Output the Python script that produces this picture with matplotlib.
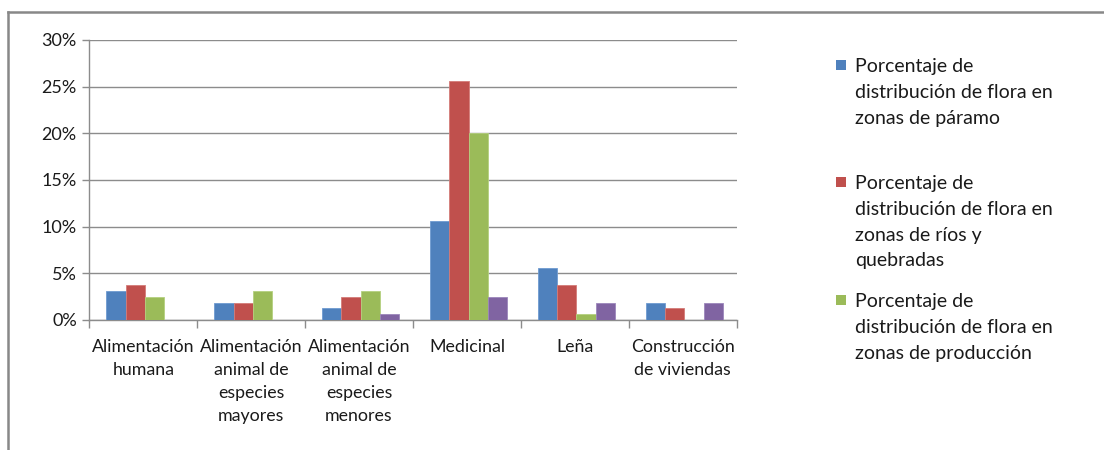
import matplotlib
matplotlib.use("Agg")
import matplotlib.pyplot as plt
from matplotlib.patches import Rectangle
from matplotlib.lines import Line2D
from matplotlib.ticker import FuncFormatter
import numpy as np

categories = ["Alimentación\nhumana",
              "Alimentación\nanimal de\nespecies\nmayores",
              "Alimentación\nanimal de\nespecies\nmenores",
              "Medicinal", "Leña",
              "Construcción\nde viviendas"]
paramo = [3.125, 1.875, 1.25, 10.625, 5.625, 1.875]
rios = [3.75, 1.875, 2.5, 25.625, 3.75, 1.25]
produccion = [2.5, 3.125, 3.125, 20.0, 0.625, 0.0]
otros = [0.0, 0.0, 0.625, 2.5, 1.875, 1.875]
series_labels = ["Porcentaje de\ndistribución de flora en\nzonas de páramo",
                 "Porcentaje de\ndistribución de flora en\nzonas de ríos y\nquebradas",
                 "Porcentaje de\ndistribución de flora en\nzonas de producción"]
yticks = [0, 5, 10, 15, 20, 25, 30]

colors = ["#4F81BD", "#C0504D", "#9BBB59", "#8064A2"]
edges = ["#6f9bd1", "#d47b78", "#b5d17f", "#9c86bb"]
grid_c = "#8c8c8c"

plt.rcParams['font.family'] = ['Lato', 'DejaVu Sans']

W, H = 1104, 450
fig = plt.figure(figsize=(W / 100, H / 100), dpi=100)
fig.patch.set_facecolor("white")

# outer chart border
fig.add_artist(Line2D([8 / W, 1.0], [1 - 12 / H, 1 - 12 / H], transform=fig.transFigure,
                      color="#888888", lw=1.8))
fig.add_artist(Line2D([8 / W, 8 / W], [1 - 12 / H, 0.0], transform=fig.transFigure,
                      color="#888888", lw=1.8))

ax = fig.add_axes([89.3 / W, 1 - 320 / H, (736.7 - 89.3) / W, (320 - 40) / H])
x = np.arange(len(categories))
bw = 0.178
all_series = [paramo, rios, produccion, otros]
for i, s in enumerate(all_series):
    ax.bar(x + (i - 1.5) * bw + 0.015, s, width=bw, color=colors[i],
           edgecolor=edges[i], linewidth=0.6, zorder=3)

ax.set_xlim(-0.5, len(categories) - 0.5)
ax.set_ylim(0, 30)
ax.set_yticks(yticks)
ax.yaxis.set_major_formatter(FuncFormatter(lambda v, p: f"{v:.0f}%"))
ax.grid(axis="y", color=grid_c, lw=1.0, zorder=0)
for sp in ["top", "right"]:
    ax.spines[sp].set_visible(False)
for sp in ["left", "bottom"]:
    ax.spines[sp].set_color(grid_c)
    ax.spines[sp].set_linewidth(1.0)

ax.set_xticks(np.arange(-0.5, len(categories), 1.0))
ax.set_xticklabels([])
ax.set_xticks(x, minor=True)
ax.set_xticklabels(categories, minor=True, fontsize=12.8, color="#1a1a1a",
                   linespacing=1.55, va="top", ha="center", multialignment="center")
ax.tick_params(axis="x", which="major", length=6, color=grid_c, width=1.0)
ax.tick_params(axis="x", which="minor", length=0, pad=13.5)
ax.tick_params(axis="y", length=5, color=grid_c, width=1.0, pad=4,
               labelsize=13, labelcolor="#1a1a1a")

# legend drawn manually
leg_y = [65, 182, 300]
for i, (lbl, yy) in enumerate(zip(series_labels, leg_y)):
    fig.add_artist(Rectangle((836 / W, 1 - (yy + 5) / H), 10 / W, 10 / H,
                             transform=fig.transFigure, facecolor=colors[i],
                             edgecolor="none"))
    fig.text(855 / W, 1 - (yy - 7) / H, lbl, fontsize=14, color="#1a1a1a",
             va="top", ha="left", linespacing=1.63)

fig.savefig("out.png", dpi=100)
